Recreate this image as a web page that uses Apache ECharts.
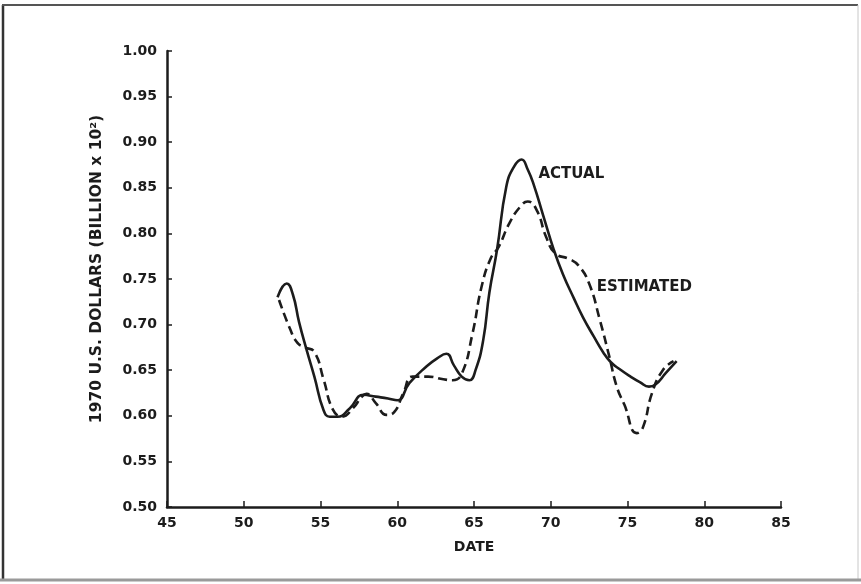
<!DOCTYPE html>
<html>
<head>
<meta charset="utf-8">
<script src="https://cdn.jsdelivr.net/npm/echarts@6/dist/echarts.min.js"></script>
<style>html,body{margin:0;padding:0;background:#fff;}#c{width:861px;height:584px;}</style>
</head>
<body>
<div id="c"></div>
<script>
// ---- data ----
const actualYears = [52.2,52.8,53.2,53.6,54.1,54.6,55.2,55.6,56.1,56.9,57.8,58.6,59.4,60.0,60.8,61.9,62.6,63.2,63.7,64.2,64.7,65.1,65.6,66.0,66.5,67.1,67.6,68.1,68.5,68.9,69.5,70.2,70.8,71.5,72.1,72.8,73.4,73.9,74.5,75.2,75.8,76.4,76.8,77.5,78.2];
const actualValues = [0.730,0.745,0.733,0.703,0.672,0.643,0.606,0.599,0.599,0.608,0.623,0.621,0.619,0.617,0.636,0.654,0.663,0.668,0.655,0.643,0.639,0.650,0.683,0.735,0.782,0.851,0.873,0.881,0.870,0.853,0.820,0.782,0.755,0.729,0.708,0.687,0.670,0.659,0.651,0.643,0.637,0.632,0.634,0.647,0.660];
const estYears = [52.3,53.0,53.5,54.0,54.6,55.2,55.8,56.4,57.1,57.7,58.0,58.6,59.3,59.8,60.4,61.0,62.0,63.0,63.6,64.2,64.9,65.5,66.1,66.6,67.3,68.0,68.5,69.1,69.7,70.3,71.2,71.8,72.5,73.2,73.8,74.3,74.8,75.6,76.0,76.6,77.3,78.0];
const estValues = [0.727,0.696,0.680,0.675,0.670,0.640,0.607,0.599,0.608,0.621,0.624,0.614,0.601,0.604,0.625,0.643,0.643,0.640,0.639,0.646,0.690,0.742,0.773,0.785,0.811,0.829,0.835,0.825,0.796,0.778,0.772,0.765,0.745,0.705,0.666,0.632,0.612,0.581,0.587,0.625,0.650,0.660];
const xTicks = {min:45, max:85, step:5};
const yTicks = {min:0.50, max:1.00, step:0.05};
const seriesLabels = [
  {name:'ACTUAL', at:[69.2, 0.865]},
  {name:'ESTIMATED', at:[73.0, 0.741]}
];
const yTitle = '1970 U.S. DOLLARS (BILLION x 10\u00B2)';
const xTitle = 'DATE';

const pair = (xs, ys) => xs.map((x, i) => [x, ys[i]]);
const ink = '#1c1c1c';
const font = 'DejaVu Sans';

const chart = echarts.init(document.getElementById('c'), null, {renderer:'canvas'});
chart.setOption({
  backgroundColor:'#ffffff',
  animation:false,
  grid:{left:167, right:80, top:51, bottom:77, containLabel:false},
  xAxis:{
    type:'value', min:xTicks.min, max:xTicks.max, interval:xTicks.step,
    name:xTitle, nameLocation:'middle', nameGap:33,
    nameTextStyle:{fontFamily:font, fontWeight:'bold', fontSize:14, color:ink},
    axisLine:{lineStyle:{color:ink, width:2.5}},
    axisTick:{inside:true, length:6, lineStyle:{color:ink, width:1.5}},
    axisLabel:{margin:9, fontFamily:font, fontWeight:'bold', fontSize:14, color:ink},
    splitLine:{show:false}
  },
  yAxis:{
    type:'value', min:yTicks.min, max:yTicks.max, interval:yTicks.step,
    name:yTitle, nameLocation:'middle', nameGap:62,
    nameTextStyle:{fontFamily:font, fontWeight:'bold', fontSize:15.5, color:ink, padding:[0,0,0,20]},
    axisLine:{lineStyle:{color:ink, width:2.5}},
    axisTick:{inside:true, length:5, lineStyle:{color:ink, width:1.5}},
    axisLabel:{margin:10, fontFamily:font, fontWeight:'bold', fontSize:14, color:ink,
      formatter:v => v.toFixed(2)},
    splitLine:{show:false}
  },
  series:[
    {
      name:'ACTUAL', type:'line', data:pair(actualYears, actualValues),
      smooth:0.5, symbol:'none',
      lineStyle:{color:ink, width:2.6},
      markPoint:{symbol:'circle', symbolSize:0, data:[{coord:seriesLabels[0].at}],
        label:{show:true, position:'right', distance:0, formatter:seriesLabels[0].name,
          fontFamily:font, fontWeight:'bold', fontSize:15, color:ink}}
    },
    {
      name:'ESTIMATED', type:'line', data:pair(estYears, estValues),
      smooth:0.5, symbol:'none',
      lineStyle:{color:ink, width:2.6, type:[9,5]},
      markPoint:{symbol:'circle', symbolSize:0, data:[{coord:seriesLabels[1].at}],
        label:{show:true, position:'right', distance:0, formatter:seriesLabels[1].name,
          fontFamily:font, fontWeight:'bold', fontSize:15, color:ink}}
    }
  ],
  graphic:[
    {type:'line', shape:{x1:3, y1:5, x2:3, y2:580}, style:{stroke:'#333', lineWidth:2.5}},
    {type:'line', shape:{x1:2, y1:5, x2:858, y2:5}, style:{stroke:'#555', lineWidth:2}},
    {type:'line', shape:{x1:858, y1:5, x2:858, y2:580}, style:{stroke:'#c8c8c8', lineWidth:1}},
    {type:'line', shape:{x1:0, y1:580, x2:861, y2:580}, style:{stroke:'#9a9a9a', lineWidth:3}}
  ]
});
</script>
</body>
</html>
